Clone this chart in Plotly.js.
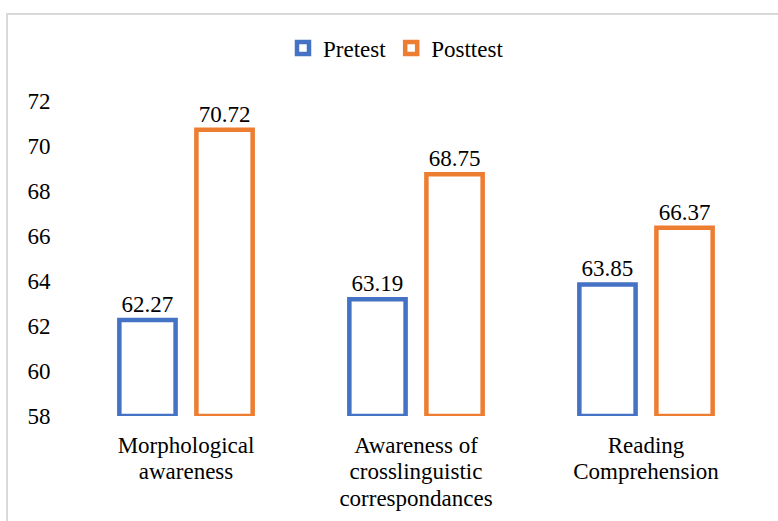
<!DOCTYPE html>
<html>
<head>
<meta charset="utf-8">
<script src="https://cdn.plot.ly/plotly-3.0.1.min.js"></script>
<style>
html,body{margin:0;padding:0;overflow:hidden;background:#fff;}
#chart{position:absolute;left:0;top:0;width:778px;height:521px;}
#frame{position:absolute;left:6px;top:13px;width:900px;height:700px;border:2px solid #d9d9d9;pointer-events:none;}
</style>
</head>
<body>
<div id="chart"></div>
<div id="frame"></div>
<script>
const categories = ["Morphological<br>awareness", "Awareness of<br>crosslinguistic<br>correspondances", "Reading<br>Comprehension"];
const pretest = [62.27, 63.19, 63.85];
const posttest = [70.72, 68.75, 66.37];
const yTicks = [58, 60, 62, 64, 66, 68, 70, 72];
const axisMin = 58;

const font = {family: "Liberation Serif", size: 23, color: "#000"};

function makeTrace(name, vals, color) {
  return {
    type: "bar",
    name: name,
    x: categories,
    y: vals.map(v => v - axisMin),
    base: axisMin,
    text: vals.map(v => v.toFixed(2)),
    textposition: "outside",
    textfont: font,
    cliponaxis: false,
    marker: {color: "#ffffff", line: {color: color, width: 4.5}},
    hoverinfo: "skip"
  };
}

const data = [
  makeTrace("Pretest", pretest, "#4472C4"),
  makeTrace("Posttest", posttest, "#ED7D31")
];

const layout = {
  width: 778, height: 521,
  margin: {l: 71, r: 17, t: 101, b: 105},
  paper_bgcolor: "#fff", plot_bgcolor: "#fff",
  font: font,
  barmode: "group",
  bargap: 0.33,
  bargroupgap: 0.27,
  showlegend: true,
  legend: {orientation: "h", x: 0.471, xanchor: "center", y: 1.168, yanchor: "middle", font: font, itemwidth: 30, tracegroupgap: 0},
  xaxis: {showline: false, showgrid: false, zeroline: false, ticks: "outside", ticklen: 8, tickcolor: "rgba(0,0,0,0)", tickfont: font, fixedrange: true},
  yaxis: {range: [58, 72], tickvals: yTicks, ticktext: yTicks.map(String), showline: false, showgrid: false, zeroline: false,
          ticks: "outside", ticklen: 15, tickcolor: "rgba(0,0,0,0)", tickfont: font, fixedrange: true}
};

Plotly.newPlot("chart", data, layout, {displayModeBar: false, staticPlot: true}).then(function (gd) {
  // tighten multi-line category label spacing to match the reference
  gd.querySelectorAll(".xtick text tspan.line").forEach(function (t) {
    const dy = t.getAttribute("dy");
    if (dy && /em$/.test(dy)) {
      const v = parseFloat(dy);
      if (v > 0) t.setAttribute("dy", (v * 1.15 / 1.3).toFixed(3) + "em");
    }
  });
});
</script>
</body>
</html>
